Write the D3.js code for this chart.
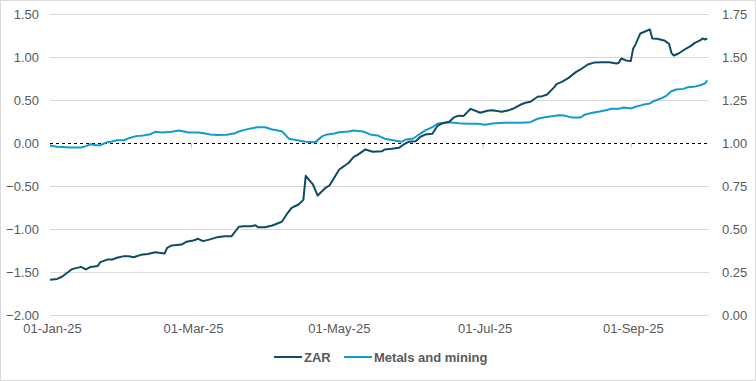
<!DOCTYPE html>
<html>
<head>
<meta charset="utf-8">
<script src="https://cdn.jsdelivr.net/npm/d3@7"></script>
<style>
  html, body { margin: 0; padding: 0; background: #fff; }
  svg { display: block; }
  text { font-family: "Liberation Sans", Arial, sans-serif; }
</style>
</head>
<body>
<svg id="chart" width="756" height="381"></svg>
<script>
// ---------------- DATA ----------------
const seriesNames = ["ZAR", "Metals and mining"];

const zarDates = ["2025-01-01","2025-01-04","2025-01-06","2025-01-10","2025-01-11","2025-01-14","2025-01-16","2025-01-18","2025-01-21","2025-01-22","2025-01-25","2025-01-27","2025-01-29","2025-02-01","2025-02-03","2025-02-05","2025-02-08","2025-02-11","2025-02-14","2025-02-18","2025-02-19","2025-02-21","2025-02-25","2025-02-27","2025-03-02","2025-03-04","2025-03-06","2025-03-09","2025-03-12","2025-03-15","2025-03-18","2025-03-21","2025-03-23","2025-03-26","2025-03-28","2025-03-29","2025-04-01","2025-04-04","2025-04-08","2025-04-10","2025-04-12","2025-04-13","2025-04-15","2025-04-17","2025-04-18","2025-04-21","2025-04-23","2025-04-26","2025-04-28","2025-04-30","2025-05-02","2025-05-04","2025-05-06","2025-05-08","2025-05-10","2025-05-13","2025-05-16","2025-05-20","2025-05-21","2025-05-24","2025-05-27","2025-05-29","2025-05-31","2025-06-03","2025-06-05","2025-06-07","2025-06-10","2025-06-12","2025-06-14","2025-06-17","2025-06-19","2025-06-21","2025-06-23","2025-06-26","2025-06-30","2025-07-03","2025-07-05","2025-07-09","2025-07-12","2025-07-14","2025-07-17","2025-07-19","2025-07-21","2025-07-24","2025-07-26","2025-07-28","2025-07-31","2025-08-01","2025-08-03","2025-08-06","2025-08-09","2025-08-11","2025-08-14","2025-08-17","2025-08-20","2025-08-23","2025-08-26","2025-08-27","2025-08-28","2025-08-30","2025-09-01","2025-09-02","2025-09-03","2025-09-05","2025-09-07","2025-09-09","2025-09-10","2025-09-12","2025-09-15","2025-09-17","2025-09-18","2025-09-19","2025-09-21","2025-09-24","2025-09-26","2025-09-28","2025-09-30","2025-10-01","2025-10-02","2025-10-03"];
const zarValues = [-1.59,-1.58,-1.555,-1.47,-1.46,-1.44,-1.47,-1.44,-1.43,-1.385,-1.355,-1.355,-1.334,-1.315,-1.315,-1.327,-1.30,-1.29,-1.27,-1.284,-1.218,-1.19,-1.18,-1.148,-1.133,-1.113,-1.14,-1.12,-1.094,-1.083,-1.083,-0.973,-0.966,-0.966,-0.955,-0.978,-0.978,-0.958,-0.915,-0.83,-0.757,-0.74,-0.714,-0.66,-0.38,-0.48,-0.61,-0.527,-0.49,-0.40,-0.306,-0.268,-0.228,-0.163,-0.13,-0.073,-0.10,-0.093,-0.073,-0.065,-0.054,-0.015,0.016,0.023,0.075,0.10,0.11,0.198,0.23,0.25,0.30,0.32,0.315,0.40,0.354,0.377,0.384,0.365,0.384,0.404,0.45,0.47,0.482,0.54,0.547,0.567,0.652,0.69,0.71,0.76,0.827,0.858,0.916,0.94,0.943,0.943,0.928,0.935,0.986,0.963,0.955,1.10,1.15,1.277,1.30,1.324,1.219,1.215,1.196,1.157,1.052,1.02,1.044,1.099,1.13,1.17,1.196,1.219,1.207,1.219];

const metalsDates = ["2025-01-01","2025-01-04","2025-01-10","2025-01-14","2025-01-16","2025-01-18","2025-01-20","2025-01-22","2025-01-25","2025-01-27","2025-01-29","2025-02-01","2025-02-03","2025-02-06","2025-02-09","2025-02-12","2025-02-14","2025-02-17","2025-02-21","2025-02-24","2025-02-28","2025-03-04","2025-03-07","2025-03-09","2025-03-12","2025-03-16","2025-03-19","2025-03-21","2025-03-23","2025-03-26","2025-03-29","2025-04-01","2025-04-04","2025-04-08","2025-04-11","2025-04-15","2025-04-18","2025-04-22","2025-04-25","2025-04-27","2025-04-30","2025-05-02","2025-05-06","2025-05-08","2025-05-12","2025-05-15","2025-05-18","2025-05-21","2025-05-25","2025-05-28","2025-05-30","2025-06-02","2025-06-05","2025-06-07","2025-06-10","2025-06-12","2025-06-15","2025-06-17","2025-06-21","2025-06-25","2025-06-29","2025-07-02","2025-07-05","2025-07-10","2025-07-17","2025-07-21","2025-07-24","2025-07-27","2025-07-30","2025-08-02","2025-08-04","2025-08-07","2025-08-11","2025-08-13","2025-08-16","2025-08-19","2025-08-21","2025-08-24","2025-08-27","2025-08-29","2025-09-01","2025-09-03","2025-09-06","2025-09-09","2025-09-11","2025-09-14","2025-09-16","2025-09-18","2025-09-20","2025-09-23","2025-09-25","2025-09-28","2025-09-30","2025-10-02","2025-10-03"];
const metalsValues = [0.987,0.979,0.975,0.975,0.983,0.994,0.988,0.988,1.006,1.01,1.017,1.017,1.029,1.041,1.045,1.052,1.066,1.062,1.066,1.074,1.062,1.062,1.056,1.051,1.047,1.049,1.056,1.068,1.076,1.086,1.093,1.093,1.08,1.07,1.026,1.016,1.008,1.006,1.041,1.051,1.056,1.064,1.068,1.074,1.068,1.051,1.045,1.026,1.016,1.008,1.022,1.027,1.056,1.074,1.093,1.113,1.119,1.122,1.116,1.113,1.113,1.107,1.115,1.119,1.119,1.122,1.142,1.151,1.157,1.163,1.161,1.15,1.15,1.167,1.177,1.184,1.19,1.2,1.2,1.208,1.202,1.212,1.223,1.231,1.247,1.262,1.277,1.302,1.312,1.316,1.326,1.33,1.337,1.347,1.365];

const leftTicks = [-2.0, -1.5, -1.0, -0.5, 0.0, 0.5, 1.0, 1.5];
const rightTicks = [0.0, 0.25, 0.5, 0.75, 1.0, 1.25, 1.5, 1.75];
const xTickDates = ["2025-01-01","2025-03-01","2025-05-01","2025-07-01","2025-09-01"];

// ---------------- LAYOUT ----------------
const W = 756, H = 381;
const plot = { left: 50, right: 709, top: 14.3, bottom: 315 };
const colors = { zar: "#0d4d63", metals: "#149bcc", grid: "#d9d9d9", text: "#595959" };

const parse = d3.timeParse("%Y-%m-%d");
const fmtX = d3.timeFormat("%d-%b-%y");

const x = d3.scaleTime()
  .domain([parse("2025-01-01"), parse("2025-10-03")])
  .range([plot.left, plot.left + 275 * 2.39]);
const yL = d3.scaleLinear().domain([-2, 1.5]).range([plot.bottom, plot.top]);
const yR = d3.scaleLinear().domain([0, 1.75]).range([plot.bottom, plot.top]);

const svg = d3.select("#chart");

// border
svg.append("rect").attr("x", 0.5).attr("y", 0.5).attr("width", W - 1).attr("height", H - 1)
  .attr("fill", "#fff").attr("stroke", "#d9d9d9").attr("stroke-width", 1);

// gridlines (excluding zero, which is drawn as dashed axis)
svg.append("g").selectAll("line")
  .data(leftTicks.filter(d => d !== 0))
  .join("line")
  .attr("x1", plot.left).attr("x2", plot.right)
  .attr("y1", d => Math.round(yL(d)) + 0.5).attr("y2", d => Math.round(yL(d)) + 0.5)
  .attr("stroke", colors.grid).attr("stroke-width", 1);

// left axis
const leftAxis = d3.axisLeft(yL).tickValues(leftTicks).tickFormat(d3.format(".2f")).tickSize(0).tickPadding(0);
const gL = svg.append("g").attr("transform", `translate(${plot.left - 11},0)`).call(leftAxis);
gL.select(".domain").remove();
gL.selectAll("text").attr("fill", colors.text).style("font-size", "13px").attr("dy", "0.35em");

// right axis
const rightAxis = d3.axisRight(yR).tickValues(rightTicks).tickFormat(d3.format(".2f")).tickSize(0).tickPadding(0);
const gR = svg.append("g").attr("transform", `translate(${plot.right + 13},0)`).call(rightAxis);
gR.select(".domain").remove();
gR.selectAll("text").attr("fill", colors.text).style("font-size", "13px").attr("dy", "0.35em");

// x axis ticks on zero line
const y0 = Math.round(yL(0)) + 0.5;
const xAxis = d3.axisBottom(x).tickValues(xTickDates.map(parse)).tickFormat(() => "").tickSize(4);
const gX = svg.append("g").attr("transform", `translate(0,${y0})`).call(xAxis);
gX.select(".domain").remove();
gX.selectAll(".tick line").attr("stroke", "#bfbfbf");

// x labels at bottom
const xLab = d3.axisBottom(x).tickValues(xTickDates.map(parse)).tickFormat(fmtX).tickSize(0).tickPadding(0);
const gXL = svg.append("g").attr("transform", `translate(2,${plot.bottom + 9})`).call(xLab);
gXL.select(".domain").remove();
gXL.selectAll("text").attr("fill", colors.text).style("font-size", "13px");

// dashed zero line
svg.append("line")
  .attr("x1", plot.left).attr("x2", plot.right)
  .attr("y1", y0).attr("y2", y0)
  .attr("stroke", "#000").attr("stroke-width", 1).attr("stroke-dasharray", "3,3");

// lines
const zarData = zarDates.map((d, i) => ({ date: parse(d), value: zarValues[i] }));
const metalsData = metalsDates.map((d, i) => ({ date: parse(d), value: metalsValues[i] }));

svg.append("path").datum(metalsData)
  .attr("fill", "none").attr("stroke", colors.metals).attr("stroke-width", 2)
  .attr("stroke-linejoin", "round")
  .attr("d", d3.line().x(d => x(d.date)).y(d => yR(d.value)));

svg.append("path").datum(zarData)
  .attr("fill", "none").attr("stroke", colors.zar).attr("stroke-width", 2)
  .attr("stroke-linejoin", "round")
  .attr("d", d3.line().x(d => x(d.date)).y(d => yL(d.value)));

// legend
const legendY = 357;
const legend = svg.append("g");
const items = [
  { name: seriesNames[0], color: colors.zar, x: 274 },
  { name: seriesNames[1], color: colors.metals, x: 344 }
];
items.forEach(it => {
  legend.append("line").attr("x1", it.x).attr("x2", it.x + 28)
    .attr("y1", legendY).attr("y2", legendY)
    .attr("stroke", it.color).attr("stroke-width", 2);
  legend.append("text").attr("x", it.x + 30).attr("y", legendY).attr("dy", "0.35em")
    .attr("fill", colors.text).style("font-size", "13px").style("font-weight", "bold")
    .text(it.name);
});
</script>
</body>
</html>
